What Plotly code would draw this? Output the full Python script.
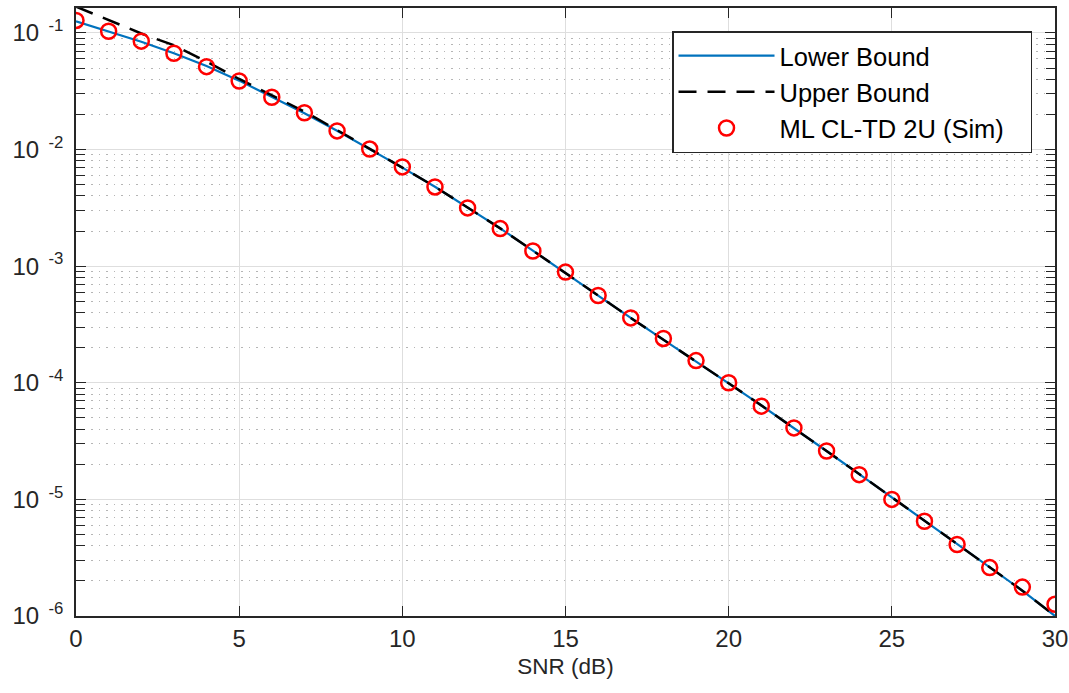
import plotly.graph_objects as go

snr = list(range(31))
sim = [0.128, 0.1035, 0.085, 0.067, 0.0514, 0.0387, 0.0281, 0.0207, 0.01445, 0.0101,
       0.0071, 0.00478, 0.00316, 0.0021, 0.00135, 0.00089, 0.00056, 0.00036, 0.00024, 0.000155,
       1.0e-4, 6.3e-5, 4.1e-5, 2.6e-5, 1.63e-5, 1.0e-5, 6.5e-6, 4.1e-6, 2.6e-6, 1.77e-6, 1.26e-6]
lower = [0.126, 0.103, 0.084, 0.067, 0.052, 0.0390, 0.0283, 0.0205, 0.0145, 0.0101,
         0.0070, 0.0048, 0.00320, 0.00211, 0.00136, 0.00088, 0.00056, 0.00036, 0.000235, 0.000153,
         9.9e-5, 6.4e-5, 4.1e-5, 2.6e-5, 1.65e-5, 1.04e-5, 6.5e-6, 4.1e-6, 2.6e-6, 1.65e-6, 1.0e-6]
upper = [0.168, 0.129, 0.099, 0.0784, 0.0568, 0.0403, 0.029, 0.0212, 0.0147, 0.0102,
         0.0070, 0.0048, 0.00320, 0.00211, 0.00136, 0.00088, 0.00056, 0.00036, 0.000235, 0.000153,
         9.9e-5, 6.4e-5, 4.1e-5, 2.6e-5, 1.65e-5, 1.04e-5, 6.5e-6, 4.1e-6, 2.6e-6, 1.65e-6, 1.0e-6]

xticks = [0, 5, 10, 15, 20, 25, 30]
yticks = [1e-6, 1e-5, 1e-4, 1e-3, 1e-2, 1e-1]
yticklabels = ["10<sup>&nbsp; -6</sup>", "10<sup>&nbsp; -5</sup>", "10<sup>&nbsp; -4</sup>",
               "10<sup>&nbsp; -3</sup>", "10<sup>&nbsp; -2</sup>", "10<sup>&nbsp; -1</sup>"]

FONT = "Liberation Sans, Arial, Helvetica, sans-serif"
AXC = "#262626"

fig = go.Figure()
fig.add_trace(go.Scatter(x=snr, y=lower, mode="lines", name="Lower Bound",
                         line=dict(color="#0072BD", width=2.2)))
fig.add_trace(go.Scatter(x=snr, y=upper, mode="lines", name="Upper Bound",
                         line=dict(color="black", width=2.5, dash="18px,11px")))
fig.add_trace(go.Scatter(x=snr, y=sim, mode="markers", name="ML CL-TD 2U (Sim)&nbsp;&nbsp;&nbsp;",
                         marker=dict(symbol="circle-open", size=15, color="#FF0000",
                                     line=dict(width=2.5, color="#FF0000"))))

fig.update_layout(
    width=1069, height=693,
    margin=dict(l=76, r=14, t=8, b=77, autoexpand=False),
    paper_bgcolor="white", plot_bgcolor="white",
    font=dict(family=FONT, size=24, color=AXC),
    showlegend=True,
    legend=dict(x=0.6088, y=0.962, xanchor="left", yanchor="top",
                bgcolor="white", bordercolor="#262626", borderwidth=1.5,
                font=dict(size=25.5, color="black"), tracegroupgap=0,
                itemwidth=96),
)
fig.update_xaxes(
    range=[0, 30], tickvals=xticks, ticktext=[str(v) for v in xticks],
    ticks="inside", ticklen=10, tickcolor=AXC, tickwidth=1.3,
    showline=True, linecolor=AXC, linewidth=1.5, mirror="allticks",
    showgrid=True, gridcolor="#dedede", gridwidth=1.2, zeroline=False,
    title=dict(text="SNR (dB)", font=dict(size=22.5, color=AXC), standoff=8),
    tickfont=dict(size=24, color=AXC), automargin=False,
)
fig.update_yaxes(
    type="log", range=[-6, -0.786], tickvals=yticks, ticktext=yticklabels,
    ticks="inside", ticklen=10, tickcolor=AXC, tickwidth=1.3,
    showline=True, linecolor=AXC, linewidth=1.5, mirror="allticks",
    showgrid=True, gridcolor="#dedede", gridwidth=1.2, zeroline=False,
    tickfont=dict(size=24, color=AXC), automargin=False, ticklabelstandoff=6,
    minor=dict(dtick="D1", ticks="inside", ticklen=9, tickcolor=AXC, tickwidth=1.3,
               showgrid=True, gridcolor="#b5b5b5", griddash="1.5px,6px", gridwidth=1.2),
)

fig.write_html("out.html", config={"displayModeBar": False},
               post_script="document.body.style.margin='0';document.body.style.padding='0';")
